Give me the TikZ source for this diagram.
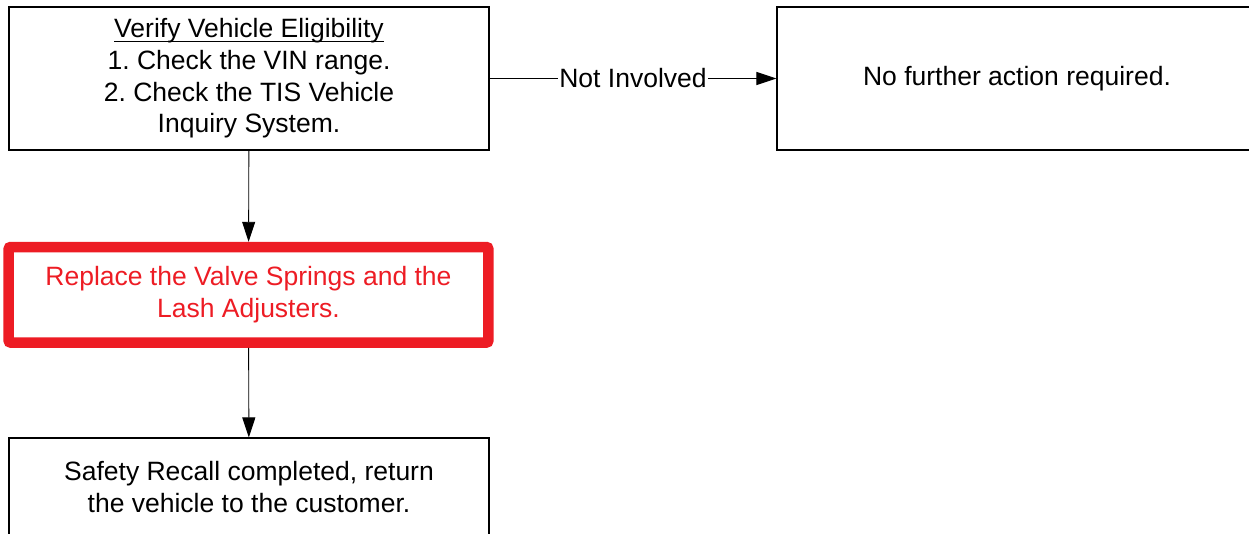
\documentclass[tikz,border=0pt]{standalone}
\usepackage{amsmath}
\usepackage{fontspec}
\setmainfont{Liberation Sans}
\usetikzlibrary{arrows.meta}
\definecolor{recallred}{RGB}{237,28,36}
\frenchspacing

\begin{document}
\begin{tikzpicture}[x=1pt, y=-1pt,
  box/.style={draw, line width=1.2pt, align=center, inner sep=0pt, minimum width=480,
    font=\fontsize{26.5}{31.7}\selectfont},
  flow/.style={-{Triangle[length=20pt, width=13pt]}, line width=0.9pt, black}]
\useasboundingbox (0, 0) rectangle (1249, 533);

\node [box, minimum height=143] (verify) at (249, 78.5)
  {\underline{\smash[b]{Verify Vehicle Eligibility}}\\1. Check the VIN range.\\2. Check the TIS Vehicle\\Inquiry System.};
\node [box, minimum height=143] (noaction) at (1017, 78.5) {No further action required.};

\node [box, draw=recallred, text=recallred, line width=10.5pt, rounded corners=2pt,
  minimum width=479.6, minimum height=95.5] (replace) at (248.5, 294.8)
  {Replace the Valve Springs and the\\Lash Adjusters.};

\node [box, minimum height=98] (done) at (249, 487)
  {Safety Recall completed, return\\the vehicle to the customer.};

\draw [flow] (verify) -- node [fill=white, inner sep=1pt, font=\fontsize{26.5}{31.7}\selectfont] {Not Involved} (noaction);
\draw [flow] (verify) -- (replace);
\draw [flow] (replace) -- (done);
\end{tikzpicture}
\end{document}
